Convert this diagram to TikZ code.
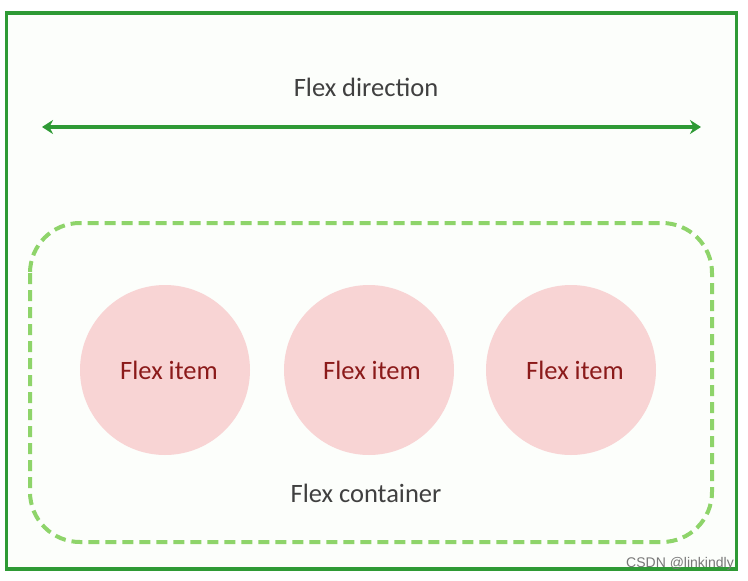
\documentclass[tikz,border=0pt]{standalone}
\usepackage{fontspec}
\setmainfont{Carlito}
\newfontfamily\wmfont{Liberation Sans}
\usetikzlibrary{arrows.meta}
\definecolor{outergreen}{HTML}{2E9A35}
\definecolor{dashgreen}{HTML}{8ED46A}
\definecolor{itempink}{HTML}{F8D4D4}
\definecolor{itemtext}{HTML}{8B1A1A}
\definecolor{labelgrey}{HTML}{404040}
\begin{document}
\begin{tikzpicture}[x=1pt,y=-1pt,
  label/.style={font=\fontsize{26.5}{30}\selectfont, text=labelgrey, inner sep=0pt},
  item/.style={circle, fill=itempink, minimum size=170pt, inner sep=0pt},
  itemlabel/.style={font=\fontsize{26.5}{30}\selectfont, text=itemtext, inner sep=0pt},
  frame/.style={draw=outergreen, line width=3.5pt},
  container/.style={draw=dashgreen, line width=4pt, dash pattern=on 11pt off 6pt, rounded corners=50pt}]
\useasboundingbox (0,0) rectangle (748,581);
\fill[white] (0,0) rectangle (748,581);
\node[frame, minimum width=730pt, minimum height=556pt, inner sep=0pt, fill={rgb,255:red,252;green,254;blue,251}] (outer) at (371.5,291) {};
\node[label] (dir) at (366,87) {Flex direction};
\coordinate (aL) at (42,127);
\coordinate (aR) at (701,127);
\draw[outergreen, line width=3.5pt, {Stealth[length=11pt,width=14pt]}-{Stealth[length=11pt,width=14pt]}] (aL) -- (aR);
\draw[container] (30,223) rectangle (712,542);
\node[item] (i1) at (165,370) {};
\node[item] (i2) at (369,370) {};
\node[item] (i3) at (571,370) {};
\node[itemlabel] at ([xshift=4pt]i1.center) {Flex item};
\node[itemlabel] at ([xshift=3pt]i2.center) {Flex item};
\node[itemlabel] at ([xshift=4pt]i3.center) {Flex item};
\node[label] (cont) at (366,493) {Flex container};
\node[font=\wmfont\fontsize{14}{16}\selectfont, text={rgb,255:red,120;green,120;blue,120}, anchor=east, inner sep=0pt] (wm) at (734,564) {CSDN @linkindly};
\end{tikzpicture}
\end{document}
